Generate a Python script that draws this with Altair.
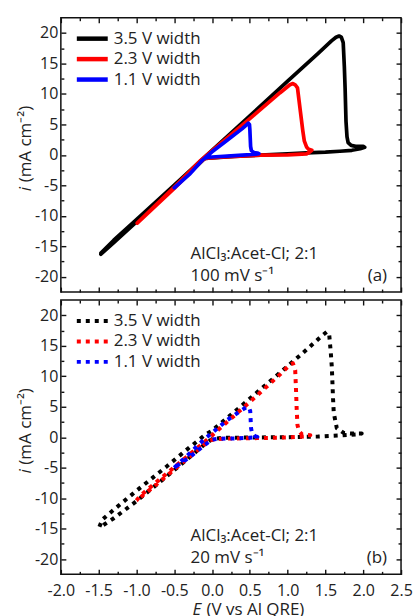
import altair as alt
import pandas as pd

FONT = "Open Sans"
INK = "#222222"

SERIES = ["3.5 V width", "2.3 V width", "1.1 V width"]
COLORS = ["#000000", "#ff0000", "#0000ff"]

X_TICKS = [-2.0, -1.5, -1.0, -0.5, 0.0, 0.5, 1.0, 1.5, 2.0, 2.5]
X_MINOR = [-1.75, -1.25, -0.75, -0.25, 0.25, 0.75, 1.25, 1.75, 2.25]
Y_TICKS = [-20, -15, -10, -5, 0, 5, 10, 15, 20]
Y_MINOR = [-17.5, -12.5, -7.5, -2.5, 2.5, 7.5, 12.5, 17.5]

# (a) 100 mV/s cyclic voltammograms, potential E (V) and current density i (mA cm-2)
E_FAST_35 = [-1.47, -1.30, -1.00, -0.50, 0.00, 0.50, 1.00, 1.40, 1.58, 1.64, 1.68, 1.71,
             1.735, 1.75, 1.76, 1.772, 1.785, 1.80, 1.84, 1.90, 2.00, 2.02, 1.96, 1.85,
             1.69, 1.50, 1.25, 1.00, 0.64, 0.30, 0.10, -0.09, -0.12, -0.50, -1.00, -1.30, -1.47]
I_FAST_35 = [-16.1, -14.0, -10.6, -4.95, 0.75, 6.4, 12.1, 16.6, 18.7, 19.3, 19.5, 19.3,
             18.4, 14.5, 11.0, 5.5, 3.0, 2.0, 1.55, 1.4, 1.4, 1.25, 1.0, 0.75,
             0.6, 0.45, 0.33, 0.15, -0.05, -0.25, -0.4, -0.6, -0.85, -5.3, -11.0, -14.4, -16.3]

E_FAST_23 = [-0.99, -0.50, -0.15, 0.20, 0.60, 0.90, 1.03, 1.07, 1.10, 1.13, 1.15, 1.17,
             1.20, 1.22, 1.25, 1.28, 1.32, 1.29, 1.25, 1.00, 0.64, 0.30, 0.11, -0.09,
             -0.13, -0.50, -0.99]
I_FAST_23 = [-11.2, -5.3, -0.9, 2.8, 7.0, 10.2, 11.5, 11.7, 11.5, 11.0, 9.0, 7.0,
             4.0, 2.3, 1.3, 0.9, 0.75, 0.45, 0.16, 0.0, -0.05, -0.25, -0.38, -0.6,
             -0.9, -5.5, -11.2]

E_FAST_11 = [-0.50, -0.30, -0.13, 0.00, 0.20, 0.40, 0.46, 0.48, 0.495, 0.50, 0.505, 0.51,
             0.52, 0.55, 0.60, 0.62, 0.58, 0.40, 0.20, 0.00, -0.09, -0.13, -0.30, -0.50]
I_FAST_11 = [-5.4, -3.2, -0.9, 0.5, 2.4, 4.3, 4.95, 5.2, 5.0, 4.2, 2.8, 1.4,
             0.7, 0.4, 0.3, 0.2, 0.1, -0.05, -0.2, -0.35, -0.5, -0.9, -3.2, -5.4]

# (b) 20 mV/s cyclic voltammograms
E_SLOW_35 = [-1.49, -1.45, -1.30, -1.00, -0.60, -0.30, -0.10, 0.00, 0.30, 0.60, 0.90, 1.20,
             1.45, 1.52, 1.55, 1.57, 1.585, 1.60, 1.61, 1.65, 1.74, 1.85, 1.98,
             1.90, 1.70, 1.40, 1.00, 0.50, 0.15, 0.00, -0.10, -0.50, -1.00, -1.30, -1.45, -1.49]
I_SLOW_35 = [-14.7, -13.5, -11.9, -8.8, -4.8, -1.7, 0.3, 1.1, 4.2, 7.4, 10.6, 13.8,
             16.6, 17.3, 16.8, 14.0, 11.4, 6.5, 4.0, 1.5, 0.7, 0.6, 0.6,
             0.45, 0.3, 0.1, 0.0, -0.05, -0.1, -0.3, -1.2, -5.4, -10.5, -13.3, -14.5, -14.7]

E_SLOW_23 = [-1.00, -0.95, -0.70, -0.40, -0.15, 0.00, 0.30, 0.60, 0.90, 1.03, 1.07, 1.10,
             1.11, 1.12, 1.13, 1.15, 1.19, 1.25, 1.30,
             1.22, 1.00, 0.60, 0.30, 0.05, -0.05, -0.20, -0.50, -0.80, -1.00]
I_SLOW_23 = [-10.4, -9.6, -7.0, -3.9, -1.3, 0.3, 3.6, 6.9, 10.3, 11.9, 12.1, 11.0,
             8.0, 4.5, 2.0, 1.0, 0.45, 0.35, 0.33,
             0.1, -0.05, -0.15, -0.2, -0.3, -0.6, -2.2, -5.3, -8.4, -10.4]

E_SLOW_11 = [-0.50, -0.30, -0.10, 0.00, 0.20, 0.40, 0.46, 0.49, 0.505, 0.51, 0.516, 0.53,
             0.57, 0.60, 0.50, 0.30, 0.10, 0.00, -0.10, -0.30, -0.50]
I_SLOW_11 = [-5.0, -2.7, -0.3, 0.7, 2.8, 4.5, 4.95, 4.8, 4.3, 3.0, 1.5, 0.6,
             0.15, 0.05, -0.1, -0.2, -0.25, -0.4, -1.3, -3.3, -5.0]

W, H = 341, 275
XS = alt.Scale(domain=[-2.0, 2.5], nice=False, zero=False)
YS = alt.Scale(domain=[-22.5, 22.5], nice=False, zero=False)
HYPHEN = "replace(datum.label, '\u2212', '-')"


def sweep(e, i):
    return pd.DataFrame({"E": e, "i": i, "k": range(len(e))})


def axis(orient, values, size, labels=False, fmt=None, pad=3):
    kw = dict(orient=orient, values=values, tickSize=size, offset=-size,
              domain=False, grid=False, ticks=True, tickColor="#111111",
              tickWidth=1.4, title=None, labels=labels, labelFlush=False,
              labelOverlap=False)
    if labels:
        kw.update(format=fmt, labelExpr=HYPHEN, labelPadding=pad,
                  labelFont=FONT, labelFontSize=16, labelColor=INK)
    return alt.Axis(**kw)


def axis_layer(df, xaxis, yaxis):
    return alt.Chart(df).mark_point(opacity=0, size=1).encode(
        x=alt.X("E:Q", scale=XS, axis=xaxis),
        y=alt.Y("i:Q", scale=YS, axis=yaxis),
    )


def sweep_layer(df, color, dash=None):
    kw = dict(color=color, strokeJoin="round")
    if dash:
        kw.update(strokeWidth=4, strokeDash=dash, strokeCap="butt")
    else:
        kw.update(strokeWidth=3.7, strokeCap="round")
    return alt.Chart(df).mark_line(**kw).encode(
        x=alt.X("E:Q", scale=XS, axis=None),
        y=alt.Y("i:Q", scale=YS, axis=None),
        order="k:Q",
    )


def note(text, x, y, **kw):
    style = dict(font=FONT, fontSize=17, color=INK, align="left", baseline="alphabetic")
    style.update(kw)
    return alt.Chart(pd.DataFrame({"t": [text]})).mark_text(**style).encode(
        x=alt.value(x), y=alt.value(y), text="t:N"
    )


def legend(dash=None):
    df = pd.DataFrame({"series": SERIES, "row": range(len(SERIES))})
    base = alt.Chart(df).transform_calculate(ly="21 + 20.5 * datum.row")
    rule_kw = dict(strokeWidth=4.5, strokeCap="butt")
    if dash:
        rule_kw.update(strokeWidth=4, strokeDash=dash)
    rules = base.mark_rule(**rule_kw).encode(
        x=alt.value(16), x2=alt.value(47),
        y=alt.Y("ly:Q", scale=None),
        color=alt.Color("series:N", scale=alt.Scale(domain=SERIES, range=COLORS), legend=None),
    )
    texts = base.mark_text(font=FONT, fontSize=17, color=INK, align="left",
                           baseline="middle").encode(
        x=alt.value(53), y=alt.Y("ly:Q", scale=None), text="series:N"
    )
    return [rules, texts]


def panel(sweeps, rate, tag, dash=None, x_labels=False):
    frame = pd.concat(sweeps, ignore_index=True)
    layers = [
        axis_layer(frame, axis("bottom", X_TICKS, 5, labels=x_labels, fmt=".1f", pad=8),
                   axis("left", Y_TICKS, 5, labels=True, fmt="d", pad=3)),
        axis_layer(frame, axis("bottom", X_MINOR, 3), axis("left", Y_MINOR, 3)),
        axis_layer(frame, axis("top", X_TICKS, 5), axis("right", Y_TICKS, 5)),
        axis_layer(frame, axis("top", X_MINOR, 3), axis("right", Y_MINOR, 3)),
    ]
    layers += [sweep_layer(df, c, dash) for df, c in zip(sweeps, COLORS)]
    layers += legend(dash)
    layers += [
        note("AlCl\u2083:Acet-Cl; 2:1", 130, 242),
        note(rate, 130, 264),
        note(tag, 327, 264, align="right"),
        note("i", -35, 174, angle=270, baseline="middle", fontStyle="italic"),
        note("(mA cm\u207b\u00b2)", -35, 165, angle=270, baseline="middle"),
    ]
    if x_labels:
        layers += [
            note("E", 132, 311, baseline="middle", fontStyle="italic"),
            note("(V vs Al QRE)", 146, 311, baseline="middle"),
        ]
    return alt.layer(*layers).resolve_axis(x="independent", y="independent").properties(
        width=W, height=H
    )


panel_a = panel(
    [sweep(E_FAST_35, I_FAST_35), sweep(E_FAST_23, I_FAST_23), sweep(E_FAST_11, I_FAST_11)],
    "100 mV s\u207b\u00b9", "(a)",
)
panel_b = panel(
    [sweep(E_SLOW_35, I_SLOW_35), sweep(E_SLOW_23, I_SLOW_23), sweep(E_SLOW_11, I_SLOW_11)],
    "20 mV s\u207b\u00b9", "(b)", dash=[4, 5], x_labels=True,
)

chart = alt.vconcat(panel_a, panel_b, spacing=4).properties(
    padding={"left": 16, "top": 15, "right": 2, "bottom": 0},
    background="white",
).configure(font=FONT).configure_view(stroke="#111111", strokeWidth=1.5)

chart.save("out.html", embed_options={"renderer": "svg", "actions": False})
